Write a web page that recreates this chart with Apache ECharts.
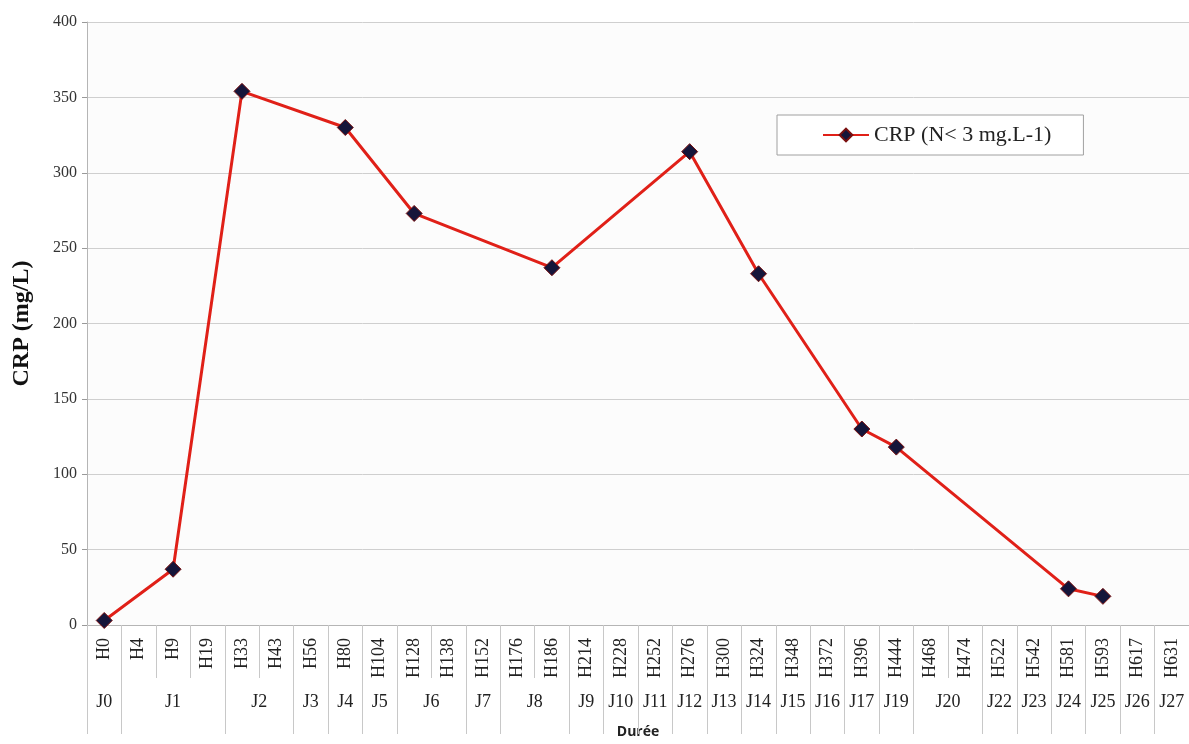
<!DOCTYPE html>
<html>
<head>
<meta charset="utf-8">
<script src="https://cdn.jsdelivr.net/npm/echarts@6/dist/echarts.min.js"></script>
<style>html,body{margin:0;padding:0;background:#fff}#c{width:1189px;height:744px}</style>
</head>
<body>
<div id="c"></div>
<script>
var hours = ['H0','H4','H9','H19','H33','H43','H56','H80','H104','H128','H138','H152','H176','H186','H214','H228','H252','H276','H300','H324','H348','H372','H396','H444','H468','H474','H522','H542','H581','H593','H617','H631'];
var days = ['J0','J1','J2','J3','J4','J5','J6','J7','J8','J9','J10','J11','J12','J13','J14','J15','J16','J17','J19','J20','J22','J23','J24','J25','J26','J27'];
var daySpans = [1,3,2,1,1,1,2,1,2,1,1,1,1,1,1,1,1,1,1,2,1,1,1,1,1,1];
var crp = [3,null,37,null,354,null,null,330,null,273,null,null,null,237,null,null,null,314,null,233,null,null,130,118,null,null,null,null,24,19,null,null];
var yTicks = {min:0, max:400, interval:50};

// half-slot positions for the day row
var halfSlots = [], centerLabel = {}, boundary = {};
(function(){
  var s = 0;
  boundary[0] = true;
  for (var g = 0; g < days.length; g++) {
    var e = s + daySpans[g] - 1;
    centerLabel[s + e + 1] = days[g];
    boundary[2 * (e + 1)] = true;
    s = e + 1;
  }
  for (var k = 0; k <= hours.length * 2; k++) halfSlots.push(String(k));
})();

var serif = 'Liberation Serif';
var chart = echarts.init(document.getElementById('c'));
chart.setOption({
  animation: false,
  backgroundColor: '#fff',
  grid: {left: 87, top: 22, width: 1113, height: 604, show: true, backgroundColor: '#fcfcfc', borderWidth: 0},
  legend: {
    data: ['CRP (N< 3 mg.L-1)'],
    left: 777, top: 115,
    backgroundColor: '#fff', borderColor: '#a0a0a0', borderWidth: 1,
    padding: [9, 32, 9, 45],
    itemWidth: 46, itemHeight: 16, itemGap: 2,
    textStyle: {fontFamily: serif, fontSize: 22, color: '#222'}
  },
  xAxis: [{
    type: 'category', data: hours, boundaryGap: true, position: 'bottom',
    axisLine: {show: true, lineStyle: {color: '#b5b5b5', width: 1}},
    axisTick: {show: true, length: 53, lineStyle: {color: '#c8c8c8'}},
    axisLabel: {rotate: 90, interval: 0, margin: 13, fontFamily: serif, fontSize: 18, color: '#222'},
    splitLine: {show: false}
  }, {
    type: 'category', data: halfSlots, boundaryGap: false, position: 'bottom',
    axisLine: {show: false},
    axisTick: {show: true, length: 109, interval: function(i){ return !!boundary[i]; }, lineStyle: {color: '#c8c8c8'}},
    axisLabel: {interval: function(i){ return centerLabel[i] !== undefined; }, formatter: function(v){ return centerLabel[+v] || ''; }, margin: 68, fontFamily: serif, fontSize: 18, color: '#222'},
    name: 'Durée', nameLocation: 'middle', nameGap: 100,
    nameTextStyle: {fontFamily: 'Open Sans', fontWeight: 'bold', fontSize: 14, color: '#222'},
    splitLine: {show: false}
  }],
  yAxis: {
    type: 'value', min: yTicks.min, max: yTicks.max, interval: yTicks.interval,
    axisLine: {show: true, lineStyle: {color: '#b5b5b5'}},
    axisTick: {show: true, length: 5, lineStyle: {color: '#999'}},
    axisLabel: {margin: 10, fontFamily: serif, fontSize: 16, color: '#333'},
    splitLine: {show: true, lineStyle: {color: '#cfcfcf', width: 1}},
    name: 'CRP (mg/L)', nameLocation: 'middle', nameGap: 53,
    nameTextStyle: {fontFamily: serif, fontWeight: 'bold', fontSize: 24, color: '#111'}
  },
  series: [{
    name: 'CRP (N< 3 mg.L-1)', type: 'line', xAxisIndex: 0, data: crp, connectNulls: true,
    symbol: 'diamond', symbolSize: 16,
    lineStyle: {color: '#e02018', width: 3},
    itemStyle: {color: '#15153a', borderColor: '#7a1010', borderWidth: 1}
  }]
});
</script>
</body>
</html>
